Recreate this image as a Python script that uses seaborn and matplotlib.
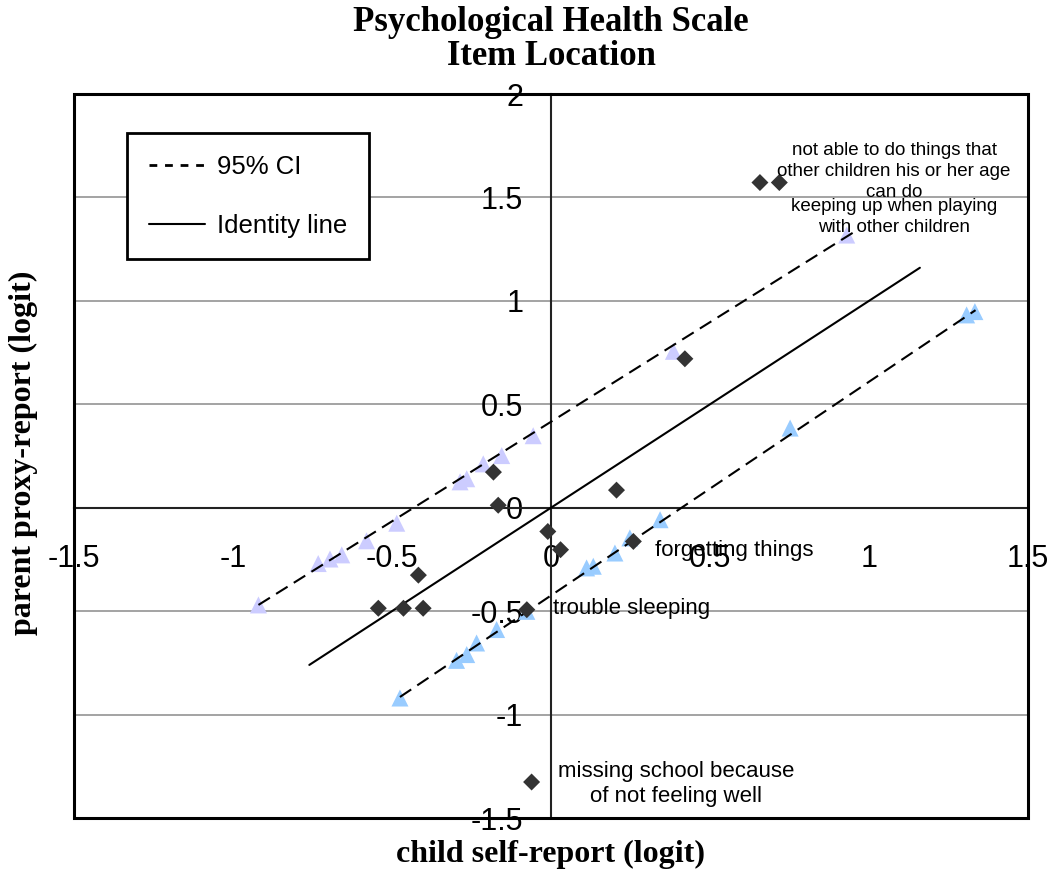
import numpy as np
import pandas as pd
import matplotlib
matplotlib.use("Agg")
import matplotlib.pyplot as plt
import seaborn as sns
from matplotlib.lines import Line2D
from matplotlib.patches import Rectangle

# ---------------- data ----------------
# item locations: child self-report (x) vs parent proxy-report (y)
item_child = [0.657, 0.718, 0.421, -0.181, -0.166, 0.206, -0.010, 0.030,
              0.259, -0.417, -0.543, -0.464, -0.402, -0.061, -0.076]
item_parent = [1.572, 1.572, 0.720, 0.172, 0.012, 0.085, -0.115, -0.203,
               -0.163, -0.326, -0.486, -0.486, -0.486, -1.326, -0.493]

# upper 95% CI points (lavender triangles)
upper_ci_x = [-0.920, -0.732, -0.695, -0.658, -0.580, -0.485, -0.286, -0.265,
              -0.213, -0.155, -0.056, 0.385, 0.930]
upper_ci_y = [-0.470, -0.270, -0.248, -0.228, -0.160, -0.075, 0.125, 0.140,
              0.212, 0.252, 0.348, 0.756, 1.318]

# lower 95% CI points (light blue triangles)
lower_ci_x = [-0.475, -0.297, -0.265, -0.234, -0.171, -0.076, 0.112, 0.133,
              0.201, 0.248, 0.343, 0.752, 1.307, 1.333]
lower_ci_y = [-0.920, -0.738, -0.710, -0.654, -0.589, -0.501, -0.291, -0.283,
              -0.219, -0.146, -0.058, 0.385, 0.932, 0.948]

# CI lines and identity line end points
upper_line_x = [-0.92, 0.95]
upper_line_y = [-0.47, 1.33]
lower_line_x = [-0.475, 1.335]
lower_line_y = [-0.915, 0.955]
identity_x = [-0.76, 1.16]
identity_y = [-0.76, 1.16]

x_ticks = [-1.5, -1, -0.5, 0, 0.5, 1, 1.5]
x_tick_labels = ["-1.5", "-1", "-0.5", "0", "0.5", "1", "1.5"]
y_ticks = [-1.5, -1, -0.5, 0, 0.5, 1, 1.5, 2]
y_tick_labels = ["-1.5", "-1", "-0.5", "0", "0.5", "1", "1.5", "2"]
grid_levels = [-1, -0.5, 0.5, 1, 1.5]

annotations = [
    ("not able to do things that\nother children his or her age\ncan do", 1.079, 1.625, 13.5, "center", 1.3),
    ("keeping up when playing\nwith other children", 1.079, 1.406, 13.5, "center", 1.3),
    ("forgetting things", 0.327, -0.208, 16, "left", 1.2),
    ("trouble sleeping", 0.006, -0.488, 16, "left", 1.2),
    ("missing school because\nof not feeling well", 0.393, -1.336, 16, "center", 1.2),
]

# ---------------- style ----------------
sns.set_style("white")
plt.rcParams["font.family"] = ["Liberation Sans", "DejaVu Sans"]
plt.rcParams["axes.unicode_minus"] = False
plt.rcParams["text.color"] = "black"
plt.rcParams["axes.labelcolor"] = "black"
plt.rcParams["xtick.color"] = "black"
plt.rcParams["ytick.color"] = "black"

fig = plt.figure(figsize=(10.5, 8.75), dpi=100)
ax = fig.add_axes([74 / 1050, 57 / 875, 954 / 1050, 724 / 875])

items = pd.DataFrame({"child": item_child, "parent": item_parent})
upper = pd.DataFrame({"child": upper_ci_x, "parent": upper_ci_y})
lower = pd.DataFrame({"child": lower_ci_x, "parent": lower_ci_y})

# gridlines
for g in grid_levels:
    ax.axhline(g, color="#9c9c9c", lw=1.3, zorder=0)

sns.scatterplot(data=upper, x="child", y="parent", marker="^", s=150,
                color="#CCCCFF", edgecolor="none", ax=ax, zorder=3)
sns.scatterplot(data=lower, x="child", y="parent", marker="^", s=150,
                color="#99CCFF", edgecolor="none", ax=ax, zorder=3)

dash = (0, (6.5, 3.5))
ax.plot(upper_line_x, upper_line_y, color="black", lw=1.5, ls=dash, zorder=4)
ax.plot(lower_line_x, lower_line_y, color="black", lw=1.5, ls=dash, zorder=4)
ax.plot(identity_x, identity_y, color="black", lw=1.5, zorder=4)

sns.scatterplot(data=items, x="child", y="parent", marker="D", s=75,
                color="#333333", edgecolor="none", ax=ax, zorder=5)

ax.set_xlim(-1.5, 1.5)
ax.set_ylim(-1.5, 2)

# axes crossing at zero
ax.spines["left"].set_position(("data", 0))
ax.spines["bottom"].set_position(("data", 0))
ax.spines["top"].set_visible(False)
ax.spines["right"].set_visible(False)
for s in ("left", "bottom"):
    ax.spines[s].set_color("#222222")
    ax.spines[s].set_linewidth(1.5)
    ax.spines[s].set_zorder(2)
ax.add_patch(Rectangle((0, 0), 1, 1, transform=ax.transAxes, fill=False,
                       ec="black", lw=2.2, clip_on=False, zorder=6))

ax.set_xticks(x_ticks)
ax.set_xticklabels(x_tick_labels)
ax.set_yticks(y_ticks)
ax.set_yticklabels(y_tick_labels)
ax.tick_params(axis="x", direction="out", length=7, width=1, color="#888888",
               labelcolor="black", labelsize=22, pad=19)
ax.tick_params(axis="y", direction="out", length=7, width=1, color="#888888",
               labelcolor="black", labelsize=22, pad=13)

serif = ["Liberation Serif", "DejaVu Serif"]
ax.set_xlabel("child self-report (logit)", fontsize=23, fontweight="bold",
              family=serif, color="black")
ax.set_ylabel("parent proxy-report (logit)", fontsize=23, fontweight="bold",
              family=serif, color="black")
ax.xaxis.set_label_coords(0.5, -0.030)
ax.yaxis.set_label_coords(-0.038, 0.505)

ax.set_title("Psychological Health Scale\nItem Location", fontsize=25,
             fontweight="bold", family=serif, linespacing=1.05, pad=21,
             color="black")

for txt, x, y, fs, ha, lsp in annotations:
    ax.text(x, y, txt, fontsize=fs, ha=ha, va="center", linespacing=lsp,
            color="black", zorder=7)

handles = [Line2D([], [], color="black", lw=2, ls=(0, (2.8, 2.8))),
           Line2D([], [], color="black", lw=1.5)]
leg = ax.legend(handles, ["95% CI", "Identity line"], loc="upper left",
                bbox_to_anchor=(0.0556, 0.946), borderaxespad=0, frameon=True,
                fancybox=False, edgecolor="black", framealpha=1, fontsize=18.5,
                handlelength=2.2, handletextpad=0.45, labelspacing=1.35,
                borderpad=0.85)
leg.get_frame().set_linewidth(2)
for t in leg.get_texts():
    t.set_color("black")
leg.set_zorder(8)

fig.savefig("out.png", dpi=100)
